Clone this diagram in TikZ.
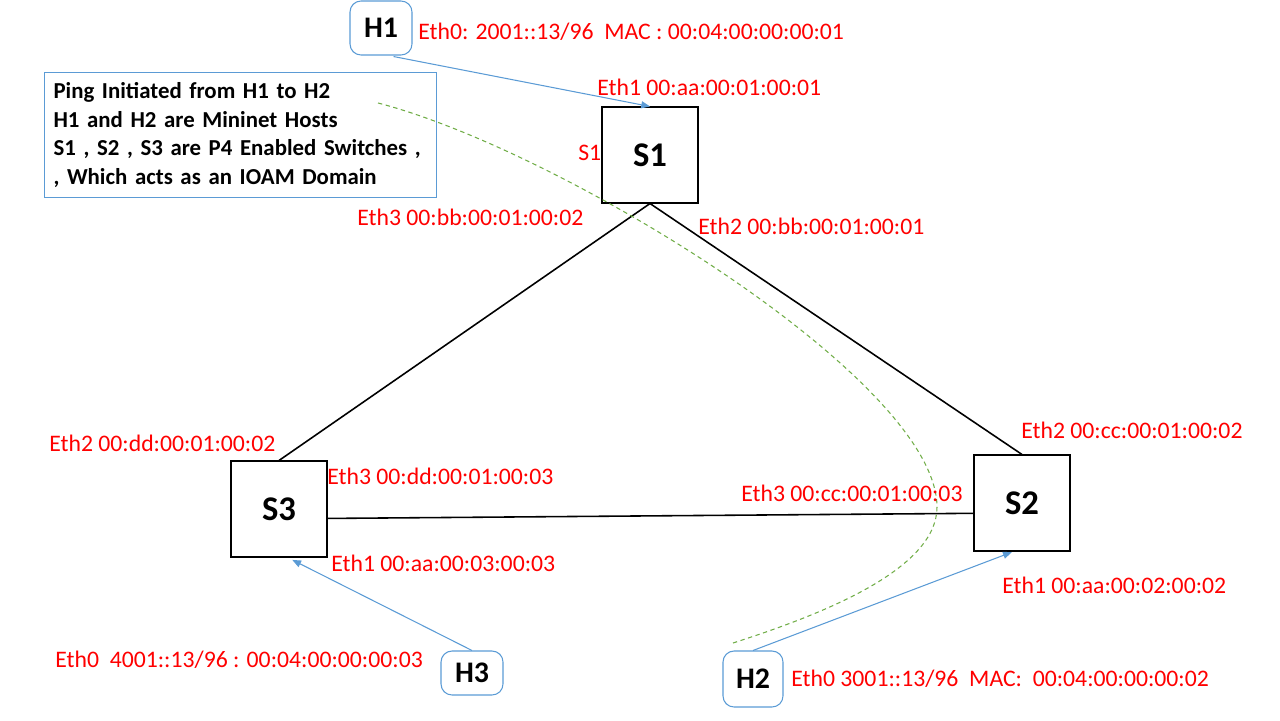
\documentclass[tikz,border=0pt]{standalone}
\usepackage{fontspec}
\setmainfont{Carlito}
\usetikzlibrary{arrows.meta}

\definecolor{linkblue}{RGB}{91,155,213}
\definecolor{pathgreen}{RGB}{112,173,71}

\begin{document}
\begin{tikzpicture}[x=0.02cm,y=-0.02cm,
  switch/.style={draw, line width=0.6pt, minimum size=1.92cm, inner sep=0pt, font=\bfseries\fontsize{19.7}{23}\selectfont},
  host/.style={draw=linkblue, line width=0.6pt, rounded corners=0.22cm, inner sep=0pt, font=\bfseries\fontsize{17}{20}\selectfont},
  port/.style={anchor=west, inner sep=0pt, text=red, font=\fontsize{13.5}{16}\selectfont},
  link/.style={line width=0.9pt},
  feed/.style={linkblue, line width=0.6pt, -{Triangle[length=5pt,width=4pt]}}
]

\useasboundingbox (0,0) rectangle (1280,720);

% switches and hosts
\node[switch] (S1) at (650,155) {S1};
\node[switch] (S3) at (279,509) {S3};
\node[switch] (S2) at (1022,503) {S2};

\node[host, minimum width=1.24cm, minimum height=1.08cm] (H1) at (381,28) {H1};
\node[host, minimum width=1.24cm, minimum height=0.88cm] (H3) at (472,673) {H3};
\node[host, minimum width=1.2cm, minimum height=1.12cm] (H2) at (753,679) {H2};

% note
\node[draw=linkblue, line width=0.6pt, anchor=north west, minimum width=7.84cm, minimum height=2.5cm,
      inner xsep=0.18cm, inner ysep=0pt, text width=7.48cm, align=left,
      font=\bfseries\fontsize{13}{16.4}\selectfont] (note) at (44,72)
  {Ping Initiated from H1 to H2\\
   H1 and H2 are Mininet Hosts\\
   S1 , S2 , S3 are P4 Enabled Switches ,\\
   , Which acts as an IOAM Domain};

% links
\draw[link] (S1.south) -- (S3.north);
\draw[link] (S1.south) -- (S2.north);
\draw[link] (S3.-11) -- (S2.-168);

\draw[feed, shorten <=3pt] (H1.-75) -- (S1.north);
\draw[feed, shorten >=3pt] (H3.north) -- (S3.-80);
\draw[feed, shorten >=1pt] (H2.north) -- (S2.-100);

% ping path
\coordinate (ping start) at (378,103);
\coordinate (ping turn) at (937,507);
\coordinate (ping end) at (733,643);
\draw[pathgreen, line width=0.6pt, dash pattern=on 2.5pt off 2pt]
  (ping start) .. controls (560,150) and (937,380) .. (ping turn)
  .. controls (937,570) and (820,615) .. (ping end);

% port labels
\node[port] (h1eth0) at (418,32) {Eth0: 2001::13/96\ \ MAC : 00:04:00:00:00:01};
\node[port] (s1eth1) at (597,87) {Eth1 00:aa:00:01:00:01};
\node[port] (s1tag) at (578,153) {S1};
\node[port] (s1eth3) at (357,217) {Eth3 00:bb:00:01:00:02};
\node[port] (s1eth2) at (698,226) {Eth2 00:bb:00:01:00:01};
\node[port] (s3eth2) at (49,443) {Eth2 00:dd:00:01:00:02};
\node[port] (s3eth3) at (327,476) {Eth3 00:dd:00:01:00:03};
\node[port] (s2eth2) at (1021,430) {Eth2 00:cc:00:01:00:02};
\node[port] (s2eth3) at (741,493) {Eth3 00:cc:00:01:00:03};
\node[port] (s3eth1) at (331,563) {Eth1 00:aa:00:03:00:03};
\node[port] (s2eth1) at (1002,585) {Eth1 00:aa:00:02:00:02};
\node[port] (h3eth0) at (55,660) {Eth0\ \ 4001::13/96 : 00:04:00:00:00:03};
\node[port] (h2eth0) at (791,679) {Eth0 3001::13/96\ \ MAC:\ \ 00:04:00:00:00:02};

\end{tikzpicture}
\end{document}
